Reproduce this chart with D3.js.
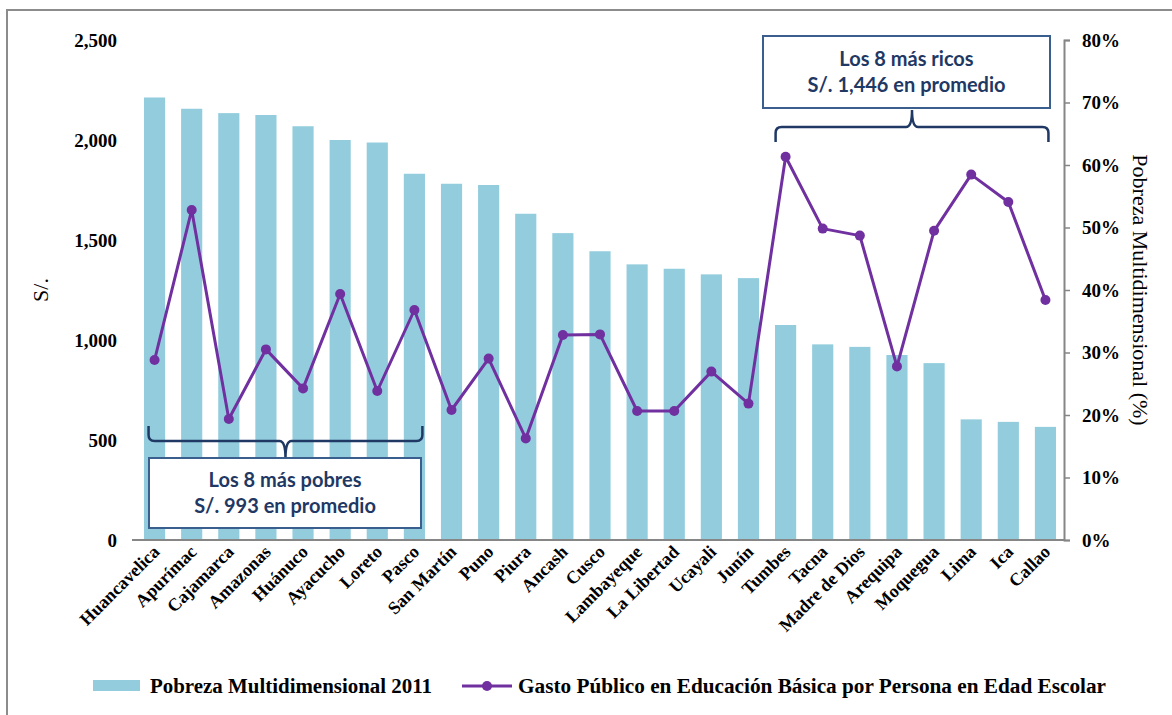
<!DOCTYPE html>
<html><head><meta charset="utf-8">
<script src="https://cdn.jsdelivr.net/npm/d3@7"></script>
<style>body{margin:0;background:#fff;} svg{display:block;}</style>
</head><body>
<svg id="c" width="1172" height="715"></svg>
<script>
const regions = ["Huancavelica","Apurímac","Cajamarca","Amazonas","Huánuco","Ayacucho","Loreto","Pasco","San Martín","Puno","Piura","Ancash","Cusco","Lambayeque","La Libertad","Ucayali","Junín","Tumbes","Tacna","Madre de Dios","Arequipa","Moquegua","Lima","Ica","Callao"];
const pobreza = [70.8,69.0,68.3,68.0,66.2,64.0,63.6,58.6,57.0,56.8,52.2,49.1,46.2,44.1,43.4,42.5,41.9,34.4,31.3,30.9,29.6,28.3,19.3,18.9,18.1];
const gasto = [900,1650,605,953,758,1230,745,1150,650,907,508,1025,1028,645,645,842,682,1916,1557,1522,868,1546,1827,1690,1200];
const leftTicks = [0,500,1000,1500,2000,2500];
const rightTicks = [0,10,20,30,40,50,60,70,80];
const poorNote = ["Los 8 más pobres","S/. 993 en promedio"];
const richNote = ["Los 8 más ricos","S/. 1,446 en promedio"];
const legendLabels = ["Pobreza Multidimensional 2011","Gasto Público en Educación Básica por Persona en Edad Escolar"];

const svg = d3.select("#c");
const serif = "'Liberation Serif','DejaVu Serif',serif";
const sans = "Lato,'Open Sans',sans-serif";
const barColor = "#93CDDD", lineColor = "#7030A0", navy = "#1F3864", boxStroke = "#3A5F8F";

// frame
svg.append("rect").attr("x",7).attr("y",10).attr("width",1200).attr("height",760)
  .attr("fill","none").attr("stroke","#8C8C8C").attr("stroke-width",2);

const x = d3.scaleBand().domain(regions).range([136,1064]).padding(0);
const yL = d3.scaleLinear().domain([0,2500]).range([540,40]);
const yR = d3.scaleLinear().domain([0,80]).range([540,40]);
const bw = x.bandwidth()*0.57;
const cx = d => x(d)+x.bandwidth()/2;

// bars
svg.append("g").selectAll("rect").data(regions).join("rect")
  .attr("x",d=>cx(d)-bw/2)
  .attr("y",(d,i)=>yR(pobreza[i]))
  .attr("width",bw)
  .attr("height",(d,i)=>yR(0)-yR(pobreza[i]))
  .attr("fill",barColor);

// x axis line
svg.append("line").attr("x1",132).attr("x2",1064).attr("y1",540).attr("y2",540)
  .attr("stroke","#868686").attr("stroke-width",2);

// left tick labels
svg.append("g").selectAll("text").data(leftTicks).join("text")
  .attr("x",117).attr("y",d=>yL(d)).attr("dy","0.35em")
  .attr("text-anchor","end").attr("font-family",serif).attr("font-weight","bold")
  .attr("font-size",19).attr("fill","#000").text(d=>d3.format(",")(d));

// right axis
const ra = svg.append("g").attr("transform","translate(1064,0)")
  .call(d3.axisRight(yR).tickValues(rightTicks).tickSize(6).tickPadding(12).tickFormat(d=>d+"%"));
ra.select(".domain").attr("stroke","#868686").attr("stroke-width",2);
ra.selectAll(".tick line").attr("stroke","#868686").attr("stroke-width",1.5);
ra.selectAll(".tick text").attr("font-family",serif).attr("font-weight","bold")
  .attr("font-size",19).attr("fill","#000");

// axis titles
svg.append("text").attr("transform","translate(48,290) rotate(-90)")
  .attr("text-anchor","middle").attr("font-family",serif).attr("font-size",22).text("S/.");
svg.append("text").attr("transform","translate(1133,290) rotate(90)")
  .attr("text-anchor","middle").attr("font-family",serif).attr("font-size",22)
  .text("Pobreza Multidimensional (%)");

// x labels
svg.append("g").selectAll("text").data(regions).join("text")
  .attr("transform",d=>`translate(${cx(d)+6},553) rotate(-45)`)
  .attr("text-anchor","end").attr("font-family",serif).attr("font-weight","bold")
  .attr("font-size",18).attr("fill","#000").text(d=>d);

// line
const line = d3.line().x((d,i)=>cx(regions[i])).y(d=>yL(d));
svg.append("path").datum(gasto).attr("d",line).attr("fill","none")
  .attr("stroke",lineColor).attr("stroke-width",3).attr("stroke-linejoin","round");
svg.append("g").selectAll("circle").data(gasto).join("circle")
  .attr("cx",(d,i)=>cx(regions[i])).attr("cy",d=>yL(d))
  .attr("r",5).attr("fill",lineColor);

// braces
function brace(x1,x2,yEnd,yMid,yTip){
  const xm=(x1+x2)/2, r=6*Math.sign(yMid-yEnd);
  return `M${x1},${yEnd} L${x1},${yMid-r} Q${x1},${yMid} ${x1+6},${yMid} L${xm-6},${yMid} Q${xm},${yMid} ${xm},${yTip}`+
         ` Q${xm},${yMid} ${xm+6},${yMid} L${x2-6},${yMid} Q${x2},${yMid} ${x2},${yMid-r} L${x2},${yEnd}`;
}
const poorL = cx(regions[0])-6, poorR = cx(regions[7])+8;
const richL = cx(regions[17])-10, richR = cx(regions[24])+3;
svg.append("path").attr("d",brace(poorL,poorR,426,441,458)).attr("fill","none")
  .attr("stroke",navy).attr("stroke-width",2.5);
svg.append("path").attr("d",brace(richL,richR,142,127,110)).attr("fill","none")
  .attr("stroke",navy).attr("stroke-width",2.5);

// note boxes
function note(x0,y0,w,h,lines){
  svg.append("rect").attr("x",x0).attr("y",y0).attr("width",w).attr("height",h)
    .attr("fill","#fff").attr("stroke",boxStroke).attr("stroke-width",2);
  svg.append("g").selectAll("text").data(lines).join("text")
    .attr("x",x0+w/2).attr("y",(d,i)=>y0+h/2-13+i*26).attr("dy","0.35em")
    .attr("text-anchor","middle").attr("font-family",sans).attr("font-weight","bold")
    .attr("font-size",20).attr("fill",navy).text(d=>d);
}
note(149,458,272,70,poorNote);
note(763,36,287,72,richNote);

// legend
svg.append("rect").attr("x",93).attr("y",680).attr("width",47).attr("height",11).attr("fill",barColor);
svg.append("text").attr("x",150).attr("y",686).attr("dy","0.35em").attr("font-family",serif)
  .attr("font-weight","bold").attr("font-size",20).attr("textLength",282).attr("lengthAdjust","spacingAndGlyphs")
  .text(legendLabels[0]);
svg.append("line").attr("x1",462).attr("x2",512).attr("y1",686).attr("y2",686)
  .attr("stroke",lineColor).attr("stroke-width",3);
svg.append("circle").attr("cx",487).attr("cy",686).attr("r",5).attr("fill",lineColor);
svg.append("text").attr("x",518).attr("y",686).attr("dy","0.35em").attr("font-family",serif)
  .attr("font-weight","bold").attr("font-size",20).attr("textLength",588).attr("lengthAdjust","spacingAndGlyphs")
  .text(legendLabels[1]);
</script>
</body></html>
